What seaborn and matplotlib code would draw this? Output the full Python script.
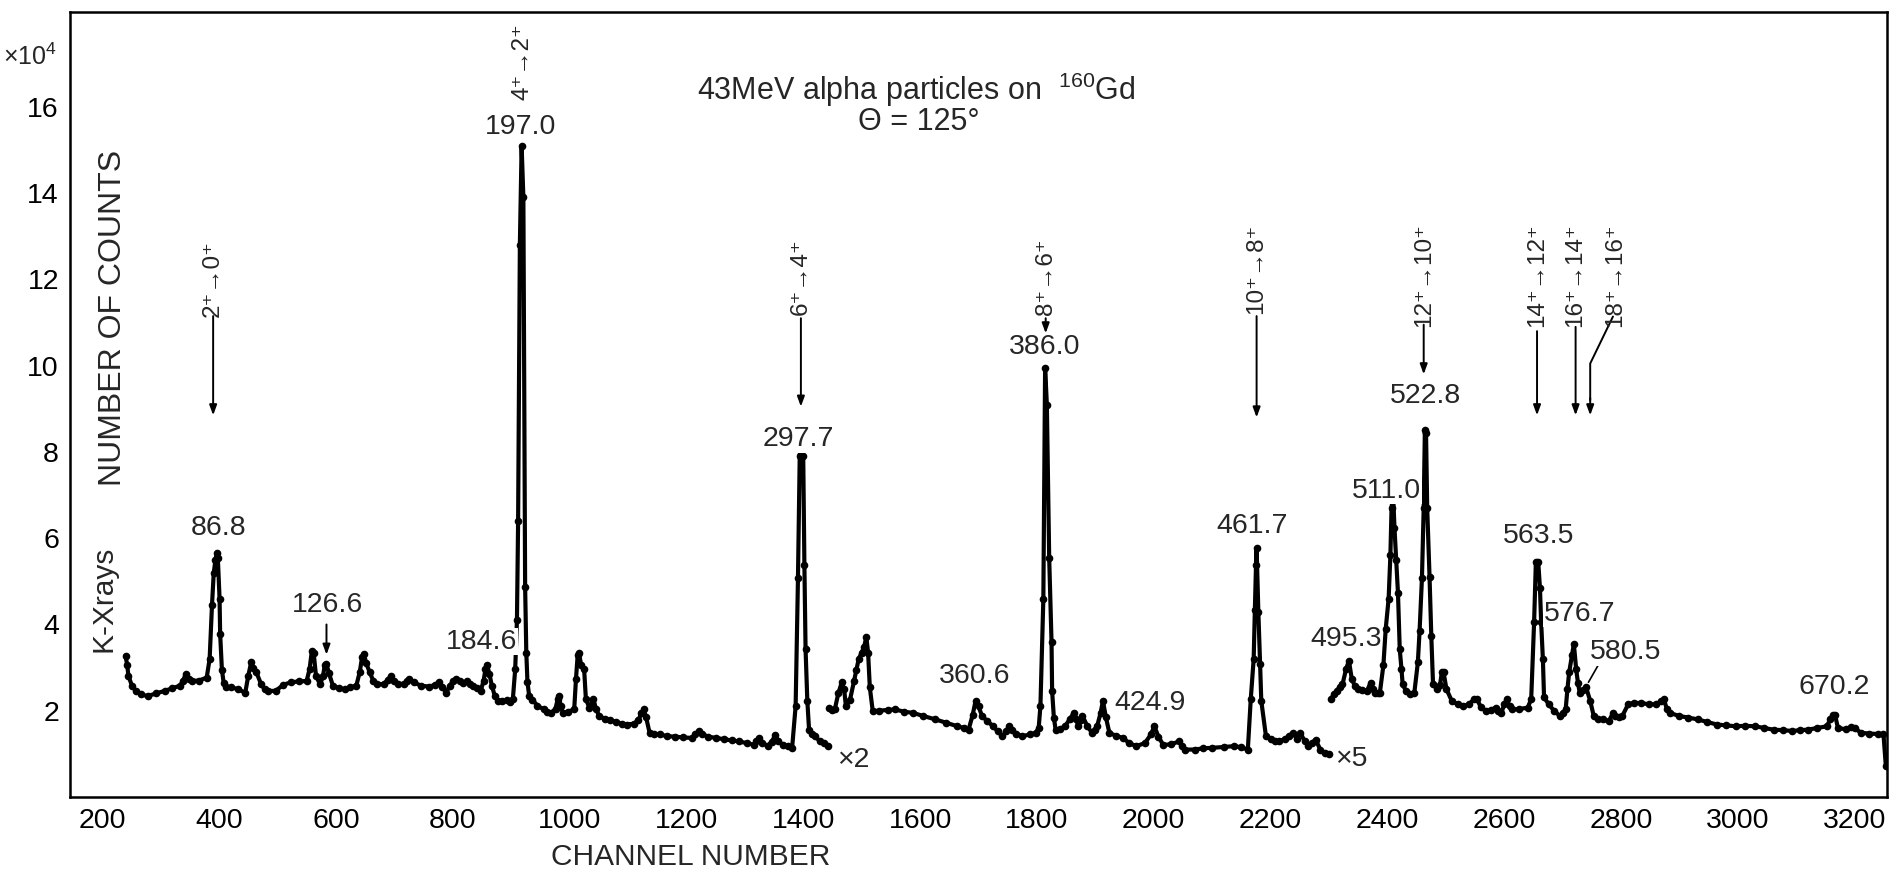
import matplotlib
matplotlib.use("Agg")
import matplotlib.pyplot as plt
from matplotlib import font_manager as fm
import pandas as pd
import seaborn as sns

# ---------------- data ----------------
seg1_channel = [240, 243, 245, 251, 258, 266, 278, 292, 307, 320, 333, 338, 343, 348, 353, 366, 379, 384,
                388, 391, 394, 396, 398, 401, 402, 405, 408, 412, 420, 432, 445, 450, 455, 459, 464, 472,
                478, 484, 497, 510, 523, 537, 550, 555, 559, 562, 566, 573, 578, 581, 584, 588, 595, 605,
                615, 625, 635, 641, 645, 648, 652, 658, 664, 671, 682, 689, 694, 700, 707, 716, 722, 726,
                733, 746, 760, 770, 776, 782, 789, 795, 800, 805, 812, 818, 825, 830, 835, 842, 848, 853,
                856, 859, 863, 867, 872, 877, 885, 893, 898, 903, 907, 910, 912, 915, 918, 921, 924, 926,
                928, 931, 936, 945, 956, 962, 969, 976, 980, 982, 985, 989, 998, 1008, 1011, 1014, 1016,
                1020, 1025, 1028, 1034, 1038, 1041, 1045, 1051, 1060, 1070, 1080, 1090, 1099, 1110, 1118,
                1123, 1127, 1131, 1137, 1145, 1155, 1167, 1180, 1195, 1209, 1215, 1221, 1227, 1237, 1251,
                1265, 1278, 1290, 1303, 1316, 1320, 1324, 1329, 1339, 1346, 1352, 1357, 1366, 1374, 1381,
                1387, 1391, 1394, 1397, 1400, 1402, 1404, 1407, 1410, 1415, 1420, 1428, 1436, 1443]
seg1_counts = [3.28, 3.05, 2.81, 2.58, 2.45, 2.38, 2.34, 2.40, 2.46, 2.52, 2.58, 2.68, 2.85, 2.74, 2.69, 2.70,
               2.77, 3.20, 4.44, 5.19, 5.50, 5.65, 5.55, 4.60, 3.78, 2.95, 2.65, 2.54, 2.55, 2.50, 2.42, 2.80,
               3.12, 3.00, 2.89, 2.62, 2.50, 2.46, 2.46, 2.60, 2.66, 2.68, 2.69, 2.96, 3.39, 3.35, 2.81, 2.61,
               2.80, 3.05, 3.08, 2.88, 2.58, 2.52, 2.50, 2.54, 2.58, 2.90, 3.25, 3.32, 3.10, 2.89, 2.70, 2.61,
               2.62, 2.72, 2.81, 2.70, 2.61, 2.63, 2.70, 2.73, 2.66, 2.58, 2.56, 2.60, 2.66, 2.55, 2.42, 2.58,
               2.68, 2.73, 2.70, 2.64, 2.69, 2.62, 2.58, 2.52, 2.46, 2.70, 2.96, 3.05, 2.85, 2.58, 2.35, 2.23,
               2.22, 2.24, 2.20, 2.27, 2.96, 4.10, 6.40, 12.80, 15.10, 13.90, 4.88, 3.35, 2.66, 2.34, 2.26,
               2.12, 2.03, 1.98, 1.95, 2.05, 2.28, 2.34, 2.10, 1.95, 1.98, 2.03, 2.73, 3.30, 3.35, 3.05, 2.96,
               2.27, 2.07, 2.15, 2.27, 2.05, 1.87, 1.82, 1.78, 1.74, 1.70, 1.68, 1.70, 1.78, 1.95, 2.03, 1.85,
               1.49, 1.46, 1.45, 1.41, 1.40, 1.38, 1.37, 1.45, 1.53, 1.46, 1.40, 1.37, 1.34, 1.31, 1.29, 1.25,
               1.21, 1.30, 1.37, 1.26, 1.19, 1.28, 1.43, 1.30, 1.20, 1.18, 1.14, 2.11, 5.07, 7.90, 8.50, 7.90,
               5.38, 3.43, 2.23, 1.56, 1.45, 1.41, 1.30, 1.25, 1.18]

seg2_channel = [1444, 1450, 1454, 1460, 1466, 1470, 1473, 1480, 1487, 1491, 1495, 1500, 1504, 1508, 1511,
                1514, 1519, 1530, 1545, 1557, 1572, 1588, 1605, 1626, 1645, 1664, 1675, 1683, 1690, 1695,
                1700, 1706, 1715, 1725, 1733, 1741, 1747, 1752, 1758, 1765, 1775, 1788, 1798, 1803, 1806,
                1811, 1814, 1817, 1821, 1825, 1826, 1829, 1832, 1840, 1848, 1856, 1863, 1867, 1871, 1875,
                1878, 1886, 1894, 1899, 1903, 1909, 1913, 1918, 1924, 1935, 1947, 1958, 1970, 1985, 1995,
                2001, 2008, 2016, 2030, 2043, 2048, 2054, 2070, 2085, 2100, 2120, 2138, 2150, 2161, 2166,
                2171, 2173, 2175, 2176, 2179, 2182, 2184, 2192, 2200, 2208, 2215, 2225, 2232, 2238, 2245,
                2251, 2258, 2264, 2270, 2277, 2285, 2293, 2300]
seg2_counts = [2.07, 2.02, 2.03, 2.40, 2.66, 2.50, 2.11, 2.25, 2.69, 2.95, 3.20, 3.35, 3.47, 3.71, 3.35, 2.54,
               1.99, 2.00, 2.02, 2.03, 1.98, 1.95, 1.88, 1.80, 1.72, 1.64, 1.60, 1.56, 1.90, 2.23, 2.10, 1.88,
               1.76, 1.64, 1.52, 1.41, 1.52, 1.64, 1.55, 1.46, 1.41, 1.45, 1.49, 1.60, 2.11, 4.60, 9.95, 9.10,
               5.54, 3.59, 2.46, 1.84, 1.56, 1.58, 1.64, 1.80, 1.95, 1.80, 1.64, 1.78, 1.88, 1.65, 1.49, 1.55,
               1.64, 1.95, 2.23, 1.85, 1.49, 1.42, 1.37, 1.25, 1.18, 1.25, 1.45, 1.64, 1.40, 1.21, 1.22, 1.29,
               1.18, 1.10, 1.10, 1.13, 1.14, 1.16, 1.18, 1.15, 1.10, 2.27, 3.20, 4.33, 5.38, 5.77, 4.29, 3.08,
               2.23, 1.41, 1.35, 1.30, 1.29, 1.35, 1.42, 1.49, 1.35, 1.49, 1.30, 1.18, 1.25, 1.33, 1.10, 1.02,
               1.00]

seg3_channel = [2303, 2308, 2313, 2318, 2323, 2329, 2334, 2339, 2344, 2349, 2357, 2365, 2371, 2375, 2378,
                2383, 2387, 2393, 2397, 2402, 2405, 2407, 2409, 2410, 2412, 2415, 2418, 2421, 2424, 2426,
                2432, 2439, 2446, 2452, 2455, 2459, 2462, 2464, 2466, 2468, 2472, 2475, 2478, 2485, 2490,
                2493, 2496, 2501, 2510, 2520, 2530, 2540, 2548, 2553, 2560, 2569, 2577, 2585, 2590, 2595,
                2600, 2604, 2609, 2614, 2625, 2640, 2646, 2651, 2654, 2658, 2661, 2663, 2666, 2668, 2676,
                2685, 2695, 2700, 2705, 2708, 2711, 2716, 2719, 2723, 2726, 2729, 2735, 2740, 2747, 2753,
                2760, 2769, 2779, 2786, 2790, 2796, 2802, 2812, 2822, 2834, 2847, 2860, 2868, 2873, 2878,
                2883, 2899, 2915, 2931, 2947, 2964, 2980, 2996, 3012, 3029, 3045, 3061, 3077, 3093, 3106,
                3119, 3135, 3152, 3158, 3162, 3166, 3171, 3185, 3193, 3200, 3210, 3225, 3240, 3249, 3253]
seg3_counts = [2.27, 2.38, 2.46, 2.55, 2.61, 2.96, 3.16, 2.73, 2.58, 2.50, 2.47, 2.46, 2.65, 2.50, 2.42, 2.42,
               2.42, 3.05, 3.90, 4.60, 5.61, 6.70, 6.95, 6.90, 6.24, 5.50, 4.72, 3.43, 2.96, 2.61, 2.45, 2.38,
               2.42, 3.12, 3.86, 5.07, 6.70, 8.50, 8.45, 6.70, 5.11, 3.74, 2.61, 2.50, 2.60, 2.89, 2.89, 2.50,
               2.23, 2.15, 2.11, 2.15, 2.27, 2.27, 2.08, 1.99, 2.02, 2.07, 2.00, 1.95, 2.15, 2.27, 2.10, 2.03,
               2.04, 2.07, 2.27, 4.06, 5.46, 5.46, 4.84, 4.06, 3.20, 2.31, 2.15, 2.00, 1.88, 1.95, 2.03, 2.50,
               2.89, 3.30, 3.55, 2.96, 2.65, 2.42, 2.48, 2.54, 2.23, 1.88, 1.82, 1.80, 1.76, 1.95, 1.88, 1.85,
               1.88, 2.15, 2.18, 2.18, 2.15, 2.15, 2.22, 2.27, 2.05, 1.95, 1.88, 1.84, 1.80, 1.74, 1.68, 1.66,
               1.64, 1.65, 1.64, 1.60, 1.56, 1.55, 1.53, 1.55, 1.56, 1.60, 1.64, 1.80, 1.91, 1.91, 1.60, 1.57,
               1.62, 1.60, 1.49, 1.47, 1.46, 1.45, 0.72]

x_ticks = [200, 400, 600, 800, 1000, 1200, 1400, 1600, 1800, 2000, 2200, 2400, 2600, 2800, 3000, 3200]
y_ticks = [2, 4, 6, 8, 10, 12, 14, 16]
y_minor = [1, 3, 5, 7, 9, 11, 13, 15, 17]

peak_energies = ["86.8", "126.6", "184.6", "197.0", "297.7", "360.6", "386.0", "424.9", "461.7",
                 "495.3", "511.0", "522.8", "563.5", "576.7", "580.5", "670.2"]
transitions = ["2⁺→0⁺", "4⁺→2⁺", "6⁺→4⁺", "8⁺→6⁺", "10⁺→8⁺", "12⁺→10⁺", "14⁺→12⁺", "16⁺→14⁺", "18⁺→16⁺"]
gain_labels = ["×2", "×5"]

# ---------------- annotation positions (layout) ----------------
peak_label_x = [400, 585, 850, 916, 1392, 1693, 1813, 1993, 2169, 2329, 2399, 2465, 2659, 2729, 2808, 3165]
peak_label_y = [6.24, 4.45, 3.60, 15.54, 8.30, 2.81, 10.44, 2.19, 6.28, 3.67, 7.10, 9.30, 6.04, 4.25, 3.36, 2.55]
trans_x = [390, 919, 1396, 1815, 2176, 2462, 2656, 2722, 2789]
trans_top = [12.9, 17.95, 12.95, 12.95, 13.3, 13.3, 13.3, 13.3, 13.3]
arrow_x = [390, 1396, 1815, 2176, 2462, 2656, 2722, 584]
arrow_from = [11.15, 11.1, 11.1, 11.15, 10.95, 10.8, 10.9, 4.0]
arrow_to = [8.85, 9.05, 10.75, 8.8, 9.8, 8.85, 8.85, 3.3]
gain_x = [1486, 2338]
gain_y = [0.85, 0.88]

# ---------------- style ----------------
sns.set_style("white")
avail = {f.name for f in fm.fontManager.ttflist}
narrow_ok = "Liberation Sans Narrow" in avail
NUM_FONT = (["Liberation Sans Narrow"] if narrow_ok else []) + ["Liberation Sans", "DejaVu Sans"]
REG_FONT = ["Liberation Sans", "DejaVu Sans"]
NUM_SIZE = 23 if narrow_ok else 20.5
TRANS_SIZE = 20 if narrow_ok else 17.5
plt.rcParams["font.family"] = NUM_FONT
plt.rcParams["axes.unicode_minus"] = False
plt.rcParams["mathtext.fontset"] = "custom"
plt.rcParams["mathtext.rm"] = "Liberation Sans"
plt.rcParams["mathtext.it"] = "Liberation Sans:italic"
plt.rcParams["mathtext.bf"] = "Liberation Sans:bold"

fig = plt.figure(figsize=(18.93, 8.74), dpi=100)
ax = fig.add_axes([70 / 1893, 77 / 874, 1817 / 1893, 785 / 874])

segments = [(seg1_channel, seg1_counts), (seg2_channel, seg2_counts), (seg3_channel, seg3_counts)]
for ch, ct in segments:
    df = pd.DataFrame({"channel": ch, "counts": ct})
    sns.lineplot(data=df, x="channel", y="counts", ax=ax, color="black", lw=3.0,
                 marker="o", markersize=5.5, markeredgewidth=0, estimator=None, sort=False)

ax.set_xlim(145, 3255)
ax.set_ylim(0, 18.2)
ax.set_xticks(x_ticks)
ax.set_yticks(y_ticks)
ax.set_yticks(y_minor, minor=True)
ax.tick_params(axis="both", which="major", direction="in", length=6, width=1.3,
               labelsize=NUM_SIZE, pad=8, colors="black")
ax.tick_params(axis="y", which="minor", direction="in", length=4, width=1.0)
for s in ax.spines.values():
    s.set_linewidth(1.8)
    s.set_color("black")

ax.set_xlabel("CHANNEL NUMBER", fontsize=21.5, family=REG_FONT)
ax.xaxis.set_label_coords((691 - 70) / 1817, (797 - 843) / 785)
ax.set_ylabel("NUMBER OF COUNTS", fontsize=23, family=REG_FONT)
ax.yaxis.label.set_va("center")
ax.yaxis.set_label_coords((113 - 70) / 1817, (797 - 318) / 785)

ax.text(202, 4.6, "K-Xrays", rotation=90, ha="center", va="center", fontsize=21.5, family=REG_FONT)
fig.text(30 / 1893, 1 - 57 / 874, r"×10$^{4}$", ha="center", va="center", fontsize=18, family=REG_FONT)

ax.text(1593, 16.4, r"43MeV alpha particles on  $^{160}$Gd", ha="center", va="center",
        fontsize=22, family=REG_FONT)
ax.text(1597, 15.65, "Θ = 125°", ha="center", va="center", fontsize=22, family=REG_FONT)

for lab, x, y in zip(peak_energies, peak_label_x, peak_label_y):
    ax.text(x, y, lab, ha="center", va="center", fontsize=NUM_SIZE, zorder=5,
            bbox=dict(facecolor="white", edgecolor="none", pad=0.5))

for lab, x, y in zip(transitions, trans_x, trans_top):
    ax.text(x, y, lab, rotation=90, ha="center", va="top", fontsize=TRANS_SIZE, family=NUM_FONT)

arrow_kw = dict(arrowstyle="-|>,head_length=0.6,head_width=0.22", color="black", lw=1.4,
                shrinkA=0, shrinkB=0)
for x, y0, y1 in zip(arrow_x, arrow_from, arrow_to):
    ax.annotate("", xy=(x, y1), xytext=(x, y0), arrowprops=arrow_kw)

# bent leader for 18+ -> 16+
ax.plot([2786, 2747, 2747], [11.14, 10.05, 9.2], color="black", lw=1.4)
ax.annotate("", xy=(2747, 8.85), xytext=(2747, 9.25), arrowprops=arrow_kw)
# leader for 580.5
ax.annotate("", xy=(2744, 2.66), xytext=(2760, 3.04),
            arrowprops=dict(arrowstyle="-", color="black", lw=1.2, shrinkA=0, shrinkB=0))

for lab, x, y in zip(gain_labels, gain_x, gain_y):
    ax.text(x, y, lab, ha="center", va="center", fontsize=NUM_SIZE, family=NUM_FONT)

fig.savefig("out.png", dpi=100)
